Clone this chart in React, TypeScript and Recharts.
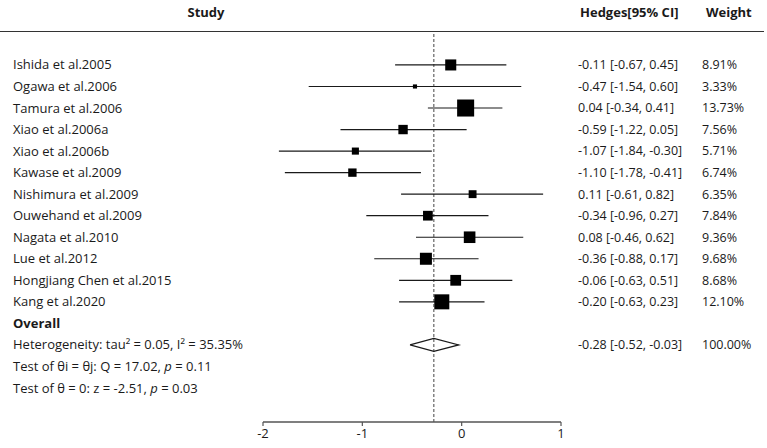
import React from "react";
import { ComposedChart, Scatter, XAxis, YAxis, ErrorBar, ReferenceLine } from "recharts";

const studies = [
  "Ishida et al.2005",
  "Ogawa et al.2006",
  "Tamura et al.2006",
  "Xiao et al.2006a",
  "Xiao et al.2006b",
  "Kawase et al.2009",
  "Nishimura et al.2009",
  "Ouwehand et al.2009",
  "Nagata et al.2010",
  "Lue et al.2012",
  "Hongjiang Chen et al.2015",
  "Kang et al.2020",
];
const estimates = [-0.11, -0.47, 0.04, -0.59, -1.07, -1.1, 0.11, -0.34, 0.08, -0.36, -0.06, -0.2];
const lower = [-0.67, -1.54, -0.34, -1.22, -1.84, -1.78, -0.61, -0.96, -0.46, -0.88, -0.63, -0.63];
const upper = [0.45, 0.6, 0.41, 0.05, -0.3, -0.41, 0.82, 0.27, 0.62, 0.17, 0.51, 0.23];
const weights = [8.91, 3.33, 13.73, 7.56, 5.71, 6.74, 6.35, 7.84, 9.36, 9.68, 8.68, 12.1];

const overallEst = -0.28;
const overallLo = -0.52;
const overallHi = -0.03;
const overallWeight = 100;

const summaryLines = [
  "Overall",
  "Heterogeneity: tau² = 0.05, I² = 35.35%",
  "Test of θi = θj: Q = 17.02, p = 0.11",
  "Test of θ = 0: z = -2.51, p = 0.03",
];

const xTicks = [-2, -1, 0, 1];

const FONT = "'Open Sans', 'Noto Sans', sans-serif";
const TEXT = "#1a1a1a";
const FS = 13;
const N = studies.length;
const OVERALL_ROW = N + 1; // diamond sits on the heterogeneity line
const rows = Array.from({ length: N + summaryLines.length }, (_, i) => i);

const studyData = studies.map((name, i) => ({
  name,
  row: i,
  est: estimates[i],
  err: [estimates[i] - lower[i], upper[i] - estimates[i]],
  w: weights[i],
}));

// diamond outline: lower, top, upper, bottom, back to lower
const DH = 0.3;
const diamond = [
  { x: overallLo, y: OVERALL_ROW },
  { x: overallEst, y: OVERALL_ROW - DH },
  { x: overallHi, y: OVERALL_ROW },
  { x: overallEst, y: OVERALL_ROW + DH },
  { x: overallLo, y: OVERALL_ROW },
];

const fmt = (v: number) => v.toFixed(2);
const ciText = (e: number, l: number, h: number) => `${fmt(e)} [${fmt(l)}, ${fmt(h)}]`;

function withItalicP(s: string) {
  const idx = s.indexOf("p =");
  if (idx < 0) return s;
  return (
    <>
      {s.slice(0, idx)}
      <tspan fontStyle="italic">p</tspan>
      {s.slice(idx + 1)}
    </>
  );
}

const LeftTick = (props: any) => {
  const { y, payload } = props;
  const i = payload.value as number;
  const label = i < N ? studies[i] : summaryLines[i - N];
  const bold = i === N;
  return (
    <text x={13} y={y} dy="0.35em" fontSize={FS} fontFamily={FONT} fill={TEXT} fontWeight={bold ? 700 : 400}>
      {withItalicP(label)}
    </text>
  );
};

const RightTick = (props: any) => {
  const { y, payload } = props;
  const i = payload.value as number;
  let ci = "";
  let wt = "";
  if (i < N) {
    ci = ciText(estimates[i], lower[i], upper[i]);
    wt = `${weights[i].toFixed(2)}%`;
  } else if (i === OVERALL_ROW) {
    ci = ciText(overallEst, overallLo, overallHi);
    wt = `${overallWeight.toFixed(2)}%`;
  }
  if (!ci) return <g />;
  return (
    <g fontSize={12.5} fontFamily={FONT} fill={TEXT}>
      <text x={578} y={y} dy="0.35em">
        {ci}
      </text>
      <text x={702} y={y} dy="0.35em">
        {wt}
      </text>
    </g>
  );
};

// weight-scaled box
const WeightBox = (props: any) => {
  const { cx, cy, payload } = props;
  const s = payload.w * 1.24;
  return <rect x={cx - s / 2} y={cy - s / 2} width={s} height={s} fill="#000" />;
};

const yDomain: [number, number] = [-1.53, 16.58];

export default function App() {
  return (
    <div style={{ position: "absolute", left: 0, top: 0, width: 767, height: 448, background: "#fff" }}>
      <div
        style={{
          position: "absolute",
          top: 0,
          left: 0,
          width: 767,
          height: 32,
          fontFamily: FONT,
          fontSize: FS,
          fontWeight: 700,
          color: TEXT,
        }}
      >
        <span style={{ position: "absolute", left: 206, top: 3, transform: "translateX(-50%)" }}>Study</span>
        <span style={{ position: "absolute", left: 580, top: 3 }}>Hedges[95% CI]</span>
        <span style={{ position: "absolute", left: 706, top: 3 }}>Weight</span>
        <div style={{ position: "absolute", left: 0, top: 31, width: 764, borderTop: "1.5px solid #333" }} />
      </div>
      <ComposedChart width={767} height={448} margin={{ top: 32, right: 0, bottom: 0, left: 0 }}>
        <XAxis
          type="number"
          dataKey="est"
          domain={[-2, 1]}
          ticks={xTicks}
          height={26}
          tickSize={4}
          tickMargin={3}
          axisLine={{ stroke: "#555", strokeWidth: 1.5 }}
          tickLine={{ stroke: "#555", strokeWidth: 1.2 }}
          tick={{ fontSize: FS, fontFamily: FONT, fill: TEXT }}
          allowDataOverflow
        />
        <YAxis
          yAxisId="left"
          type="number"
          dataKey="row"
          domain={yDomain}
          reversed
          ticks={rows}
          interval={0}
          width={263}
          axisLine={false}
          tickLine={false}
          tick={LeftTick}
          allowDataOverflow
        />
        <YAxis
          yAxisId="right"
          orientation="right"
          type="number"
          domain={yDomain}
          reversed
          ticks={rows}
          interval={0}
          width={206}
          axisLine={false}
          tickLine={false}
          tick={RightTick}
          allowDataOverflow
        />
        <ReferenceLine x={overallEst} yAxisId="left" stroke="#444" strokeWidth={1} strokeDasharray="3 2" />
        <Scatter yAxisId="left" data={studyData} dataKey="row" shape={WeightBox} isAnimationActive={false}>
          <ErrorBar direction="x" dataKey="err" width={0} stroke="#1a1a1a" strokeWidth={1.2} />
        </Scatter>
        <Scatter
          yAxisId="left"
          data={diamond.map((d) => ({ est: d.x, row: d.y }))}
          dataKey="row"
          line={{ stroke: "#1a1a1a", strokeWidth: 1.2 }}
          lineType="joint"
          shape={() => <g />}
          isAnimationActive={false}
        />
      </ComposedChart>
    </div>
  );
}
